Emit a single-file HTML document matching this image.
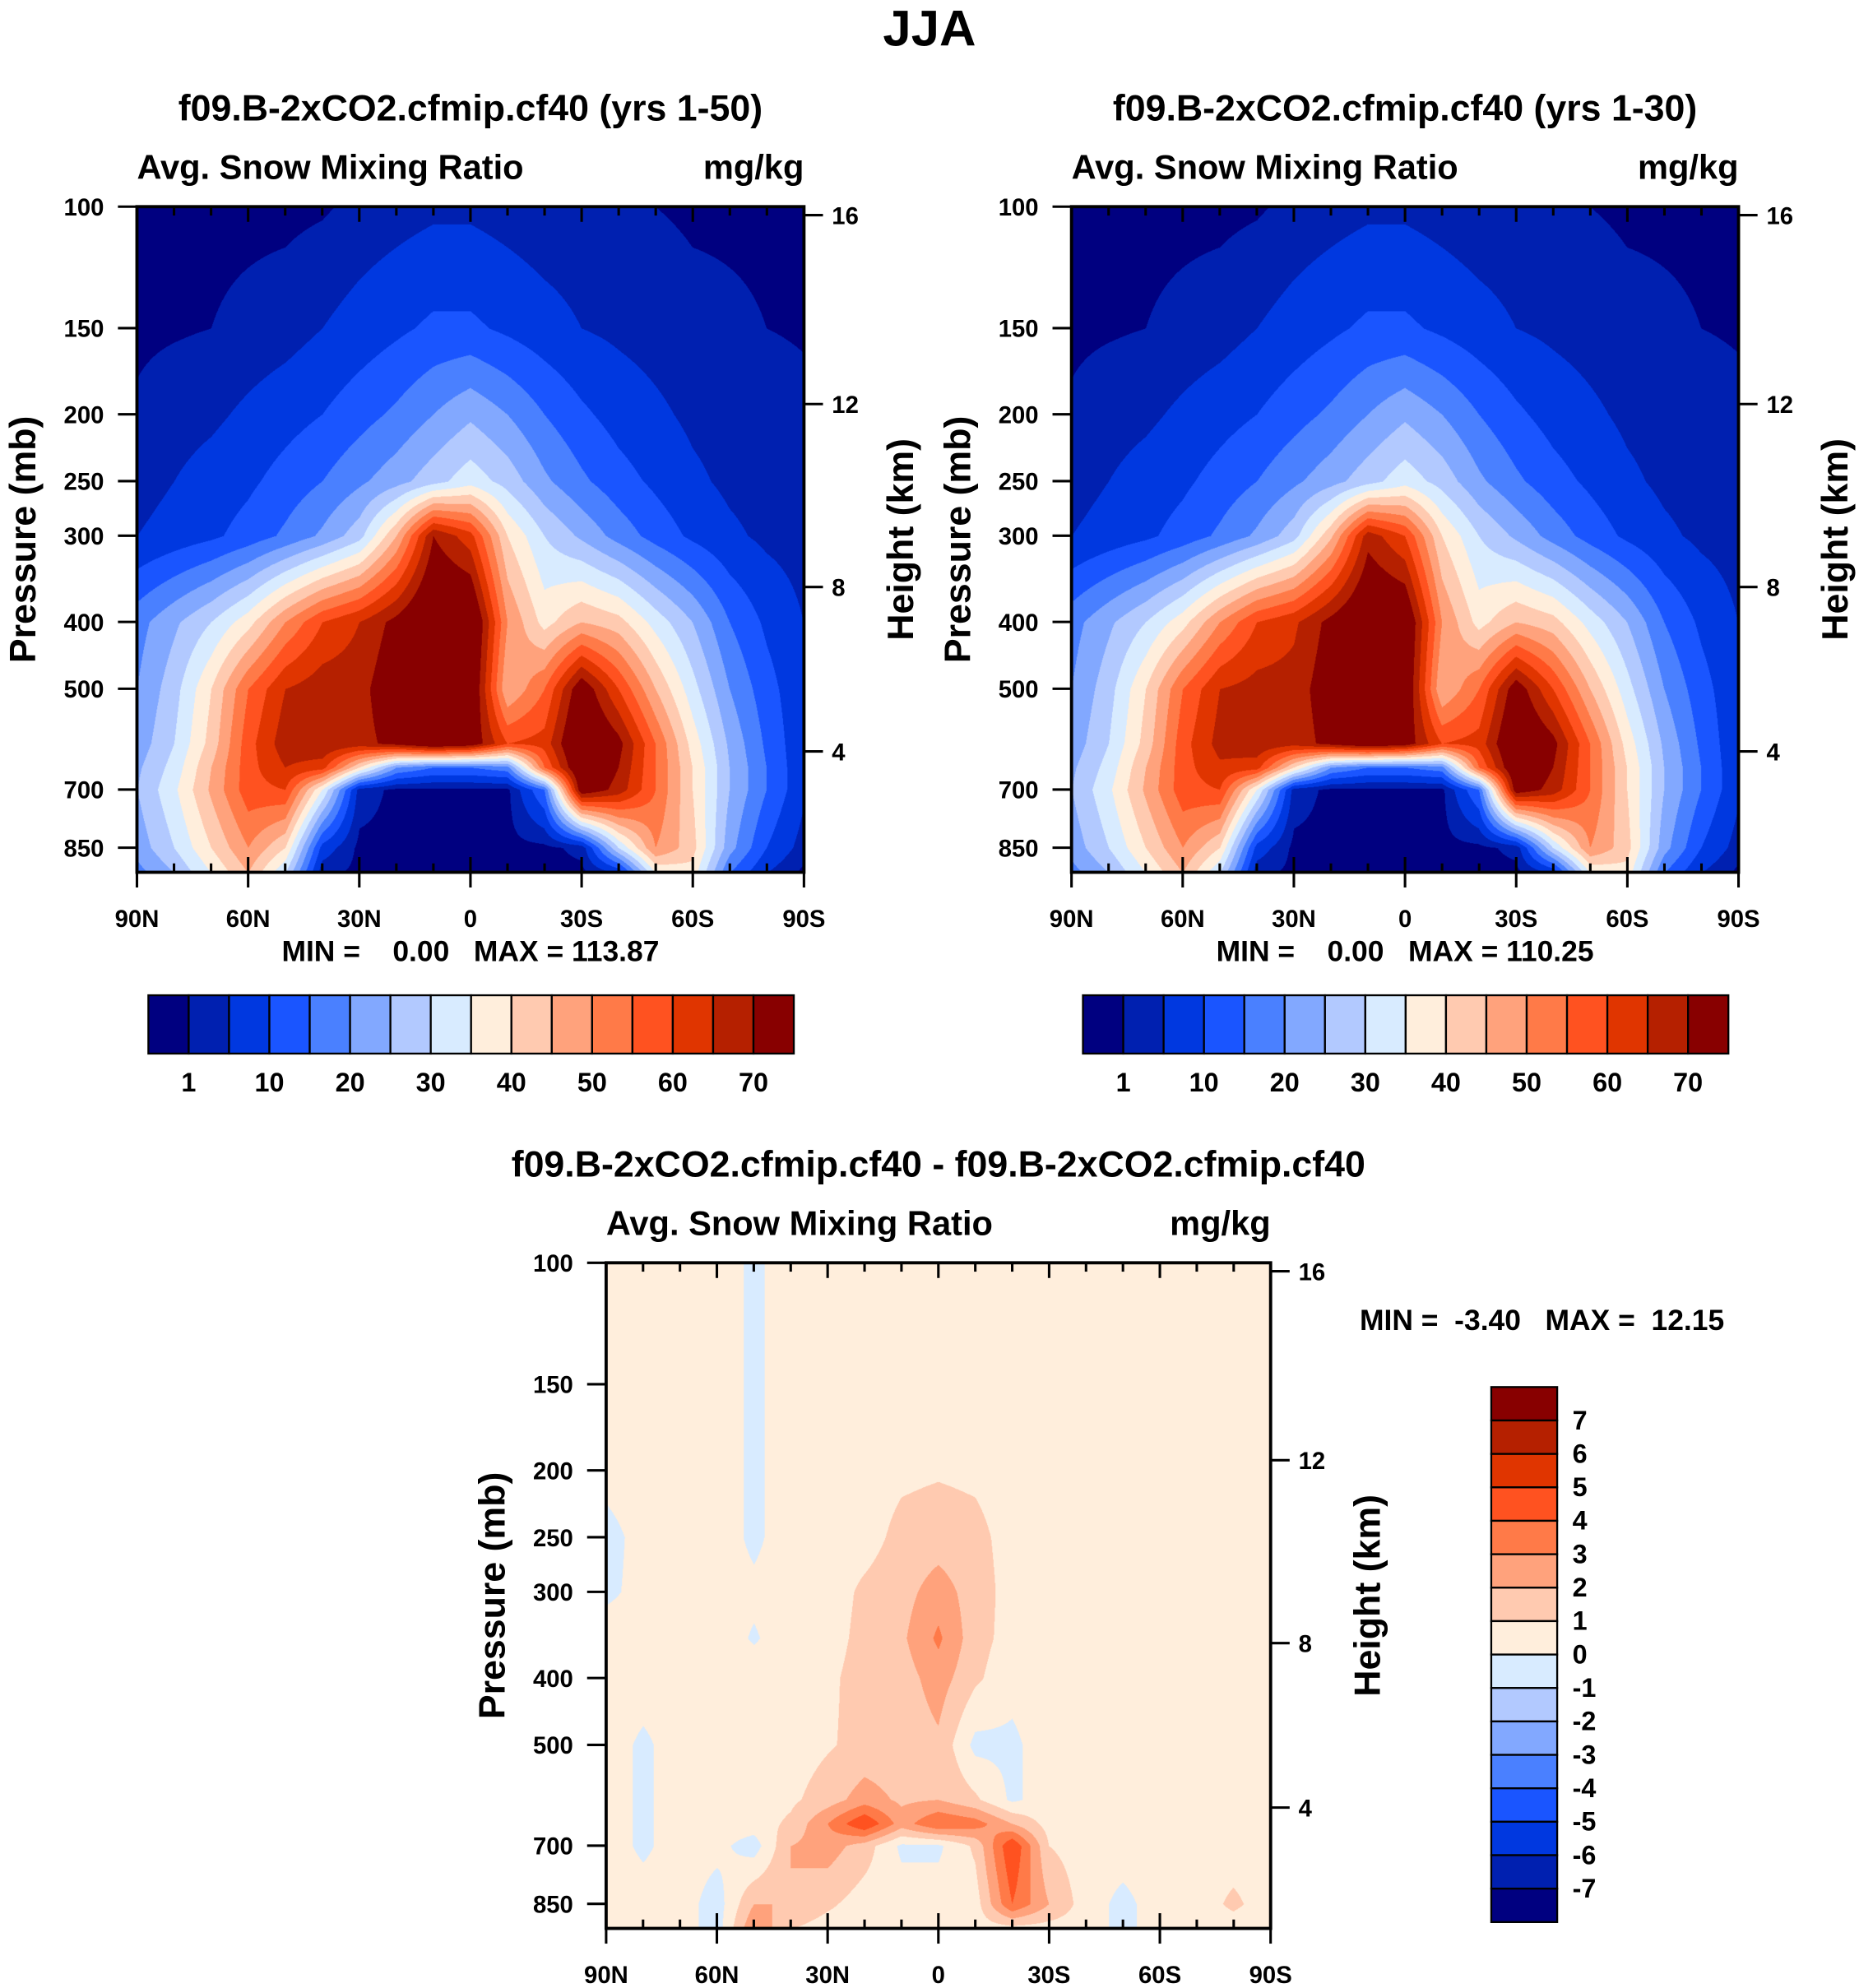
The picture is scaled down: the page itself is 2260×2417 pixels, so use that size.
<!DOCTYPE html>
<html><head><meta charset="utf-8">
<style>
html,body{margin:0;padding:0;background:#fff;}
#wrap{position:relative;width:1466px;height:1568px;transform:scale(1.54161,1.54145);transform-origin:0 0;overflow:hidden;}
canvas{position:absolute;}
svg{position:absolute;left:0;top:0;}
text{font-family:"Liberation Sans",Arial,sans-serif;font-weight:bold;fill:#000;white-space:pre;}
</style></head>
<body>
<div id="wrap">
<canvas id="c1" style="left:108px;top:163px;width:526px;height:525px" width="1052" height="1050"></canvas>
<canvas id="c2" style="left:845px;top:163px;width:526px;height:525px" width="1052" height="1050"></canvas>
<canvas id="c3" style="left:478px;top:996px;width:524px;height:525px" width="1048" height="1050"></canvas>
<svg id="ov" width="1466" height="1568" viewBox="0 0 1466 1568"></svg>
</div>
<script>
const lats=[90,80,70,60,50,40,30,20,10,0,-10,-20,-30,-40,-50,-60,-70,-80,-90];
const pres1=[100,150,200,250,300,400,500,600,650,700,850,925];
const field1=[
[0,0,0,0,0,0.5,2,3,4,4,3,2,2,1.5,1,0.5,0.5,0.5,0.5],
[0.3,0.6,1,2,3,5,7,9,11,11,9,7,5,4,3,2,1.5,1,0.8],
[1.5,3,4,6,8,10,13,16,20,24,20,15,11,8,6,4,3,2,1.5],
[3,5,7,9,12,15,19,23,28,33,28,21,16,12,9,6,4,3,2],
[5,7,9,12,16,21,28,45,70,62,40,30,24,18,13,9,6,4,3],
[18,24,30,38,50,60,65,72,80,80,50,38,45,42,33,25,15,9,5],
[20,28,40,55,65,68,68,75,80,78,45,55,75,60,45,32,20,12,6],
[22,30,42,58,68,70,68,72,78,75,60,62,80,72,55,38,24,14,6],
[24,32,45,58,65,62,40,20,15,15,18,55,78,70,55,40,25,15,6],
[25,34,46,58,60,35,3,0,0,0,0,15,75,68,55,40,25,15,6],
[22,30,40,50,40,8,0,0,0,0,0,0,2,30,50,42,22,10,3],
[18,25,35,45,30,2,0,0,0,0,0,0,0,5,35,38,15,5,0]];
const field2=[
[0,0,0,0,0,0.5,2,3,4,4,3,2,2,1.5,1,0.5,0.5,0.5,0.5],
[0.3,0.6,1,2,3,5,7,9,11,11,9,7,5,4,3,2,1.5,1,0.8],
[1.5,3,4,6,8,10,13,16,20,24,20,15,11,8,6,4,3,2,1.5],
[3,5,7,9,12,15,19,23,28,33,28,21,16,12,9,6,4,3,2],
[5,7,9,12,16,21,28,44,68,60,40,30,24,18,13,9,6,4,3],
[18,24,30,38,50,60,64,72,79,78,50,38,45,42,33,25,15,9,5],
[20,28,40,55,65,67,67,74,79,77,45,55,74,60,45,32,20,12,6],
[22,30,42,58,67,69,67,72,77,74,60,62,79,72,55,38,24,14,6],
[24,32,45,58,64,62,40,20,15,15,18,55,77,70,55,40,25,15,6],
[25,34,46,58,60,35,3,0,0,0,0,15,74,68,55,40,25,15,6],
[22,30,40,50,40,8,0,0,0,0,0,0,2,30,50,42,22,10,3],
[18,25,35,45,30,2,0,0,0,0,0,0,0,5,35,38,15,5,0]];
const presD=[100,150,200,250,300,350,400,500,600,650,700,850,925];
const fieldD=[
[.5,.5,.5,.5,-.2,.5,.5,.5,.5,.5,.5,.5,.5,.5,.5,.5,.5,.5,.5],
[.5,.5,.5,.5,-.2,.5,.5,.5,.5,.5,.5,.5,.5,.5,.5,.5,.5,.5,.5],
[.3,.5,.5,.5,-.2,.5,.5,.5,.8,.9,.8,.5,.5,.5,.5,.5,.5,.5,.5],
[-.3,.3,.5,.5,-.2,.5,.5,.6,1.3,1.5,1.3,.6,.5,.5,.5,.5,.5,.5,.5],
[-.2,.3,.5,.5,.2,.5,.5,1.2,1.6,2.5,1.5,.6,.5,.5,.5,.5,.5,.5,.5],
[.5,.5,.5,.5,-.1,.5,.6,1.3,1.8,3.2,1.4,.6,.5,.5,.5,.5,.5,.5,.5],
[.5,.5,.5,.5,.5,.5,.8,1.4,1.5,2.5,1.2,.3,.5,.5,.5,.5,.5,.5,.5],
[.5,-.2,.5,.5,.5,.5,.9,1.3,1.3,1.8,-.3,-.2,.5,.5,.5,.5,.5,.5,.5],
[.5,-.2,.5,.5,.5,.8,1.5,2.5,1.8,2.0,1.2,-.2,.5,.5,.5,.5,.5,.5,.5],
[.5,-.2,.5,.5,.5,1.2,3,5,2.5,4,3.5,2,.6,.5,.5,.5,.5,.5,.5],
[.5,-.2,.5,.3,-.5,2,2.5,1.5,-.2,-.2,1.2,5,1,.5,.5,.5,.5,.5,.5],
[.5,.5,.5,-.5,2,2,1.2,.5,.5,.5,.5,4,2,.5,-.3,.5,.5,1.2,.5],
[.5,.5,.5,-.5,3,1,.5,.5,.5,.5,.5,.5,.5,.5,-.3,.5,.5,.5,.5]];
const levels1=[1,5,10,15,20,25,30,35,40,45,50,55,60,65,70];
const levelsD=[-7,-6,-5,-4,-3,-2,-1,0,1,2,3,4,5,6,7];
const presTicks=[100,150,200,250,300,400,500,700,850];
const heightTicks=[4,8,12,16];
const latTicks=[90,60,30,0,-30,-60,-90];
const latTickLabels=["90N","60N","30N","0","30S","60S","90S"];
const cbLabels1=["1","10","20","30","40","50","60","70"];
const palette=["#000080","#0020b0","#0038e0","#1a55ff","#4a80ff","#82a8ff","#b2c9ff","#d8ebff","#ffeedc","#ffcab0","#ffa27c","#ff7a48","#ff5220","#e03500","#b52000","#880000"];

function hex(c){return [parseInt(c.slice(1,3),16),parseInt(c.slice(3,5),16),parseInt(c.slice(5,7),16)];}
const pal=palette.map(hex);
function drawField(id,field,pres,levels){
  const cv=document.getElementById(id),ctx=cv.getContext('2d');
  const W=cv.width,H=cv.height,img=ctx.createImageData(W,H);
  const lps=pres.map(p=>Math.log10(p));
  const hpx=H/525;
  for(let py=0;py<H;py++){
    const lp=2+(py/hpx)/544;
    let j=0;while(j<lps.length-2&&lps[j+1]<lp)j++;
    let t=(lp-lps[j])/(lps[j+1]-lps[j]);t=Math.max(0,Math.min(1,t));
    for(let px=0;px<W;px++){
      const fc=px/(W-1)*(lats.length-1);
      let i=Math.min(lats.length-2,Math.floor(fc));const u=fc-i;
      const a=field[j][i]*(1-u)+field[j][i+1]*u;
      const b=field[j+1][i]*(1-u)+field[j+1][i+1]*u;
      const v=a*(1-t)+b*t;
      let k=0;while(k<levels.length&&v>=levels[k])k++;
      const c=pal[k],o=(py*W+px)*4;
      img.data[o]=c[0];img.data[o+1]=c[1];img.data[o+2]=c[2];img.data[o+3]=255;
    }
  }
  ctx.putImageData(img,0,0);
}
drawField('c1',field1,pres1,levels1);
drawField('c2',field2,pres1,levels1);
drawField('c3',fieldD,presD,levelsD);

const svg=document.getElementById('ov');const NS="http://www.w3.org/2000/svg";
function el(tag,attrs,txt){const e=document.createElementNS(NS,tag);for(const k in attrs)e.setAttribute(k,attrs[k]);if(txt!==undefined)e.textContent=txt;svg.appendChild(e);return e;}
function txt(x,y,s,size,anchor,name,rot){
  const e=el('text',{x:x,y:y,'font-size':size,'text-anchor':anchor||'middle'},s);
  e.setAttributeNS("http://www.w3.org/XML/1998/namespace","xml:space","preserve");
  if(rot)e.setAttribute('transform','rotate(-90 '+x+' '+y+')');
  
  
  return e;
}
function zToP(z){const m=z*1000;if(m<=11000)return 1013.25*Math.pow(1-2.25577e-5*m,5.25588);return 226.3*Math.exp(-(m-11000)/6341.6);}
function panel(x0,y0,w,title,idx){
  const yP=p=>y0+(Math.log10(p)-2)*544, xL=l=>x0+(90-l)/180*w, h=525;
  const g=el('rect',{x:x0,y:y0,width:w,height:h,fill:'none',stroke:'#000','stroke-width':2.5});
  
  
  txt(x0+w/2,y0-68,title,29,'middle','panel-title-'+idx);
  txt(x0,y0-22,'Avg. Snow Mixing Ratio',27,'start','variable-label-'+idx);
  txt(x0+w,y0-22,'mg/kg',27,'end','units-label-'+idx);
  presTicks.forEach(p=>{const y=yP(p);el('line',{x1:x0-15,x2:x0,y1:y,y2:y,stroke:'#000','stroke-width':2});
    txt(x0-26,y+7,String(p),19,'end','pressure-tick-label');});
  heightTicks.forEach(z=>{const y=yP(zToP(z));el('line',{x1:x0+w,x2:x0+w+15,y1:y,y2:y,stroke:'#000','stroke-width':2});
    txt(x0+w+22,y+7,String(z),19,'start','height-tick-label');});
  for(let l=90;l>=-90;l-=10){const x=xL(l),maj=(l%30===0),len=maj?12:7;
    el('line',{x1:x,x2:x,y1:y0,y2:y0+len,stroke:'#000','stroke-width':2});
    el('line',{x1:x,x2:x,y1:y0+h,y2:y0+h-len,stroke:'#000','stroke-width':2});
    if(maj)el('line',{x1:x,x2:x,y1:y0+h,y2:y0+h+12,stroke:'#000','stroke-width':2});}
  latTicks.forEach((l,i)=>txt(xL(l),y0+h+43,latTickLabels[i],19,'middle','latitude-tick-label'));
  txt(x0-80,y0+h/2,'Pressure (mb)',29,'middle','pressure-axis-title',true);
  txt(x0+w+86,y0+h/2,'Height (km)',29,'middle','height-axis-title',true);
}
txt(733,36,'JJA',40,'middle','figure-title');
panel(108,163,526,'f09.B-2xCO2.cfmip.cf40 (yrs 1-50)',1);
panel(845,163,526,'f09.B-2xCO2.cfmip.cf40 (yrs 1-30)',2);
panel(478,996,524,'f09.B-2xCO2.cfmip.cf40 - f09.B-2xCO2.cfmip.cf40',3);
txt(371,758,'MIN =    0.00   MAX = 113.87',23,'middle','min-max-label-1');
txt(1108,758,'MIN =    0.00   MAX = 110.25',23,'middle','min-max-label-2');
txt(1216,1049,'MIN =  -3.40   MAX =  12.15',23,'middle','min-max-label-3');
function hbar(x0,y0,w,h,idx){
  const bw=w/16;
  palette.forEach((c,i)=>{const r=el('rect',{x:x0+i*bw,y:y0,width:bw,height:h,fill:c,stroke:'#000','stroke-width':1.5});
    });
  cbLabels1.forEach((s,i)=>txt(x0+(2*i+1)*bw,y0+h+30,s,21,'middle','colorbar-label-'+idx));
}
hbar(117,785,509,46,1);hbar(854,785,509,46,2);
(function(){const x0=1176,y0=1094,w=52,h=422,bh=h/16;
  for(let i=0;i<16;i++){const r=el('rect',{x:x0,y:y0+i*bh,width:w,height:bh,fill:palette[15-i],stroke:'#000','stroke-width':1.5});
    }
  for(let i=1;i<16;i++)txt(x0+w+12,y0+i*bh+7,String(levelsD[15-i]),21,'start','colorbar-label-3');
})();
</script>
</body></html>
